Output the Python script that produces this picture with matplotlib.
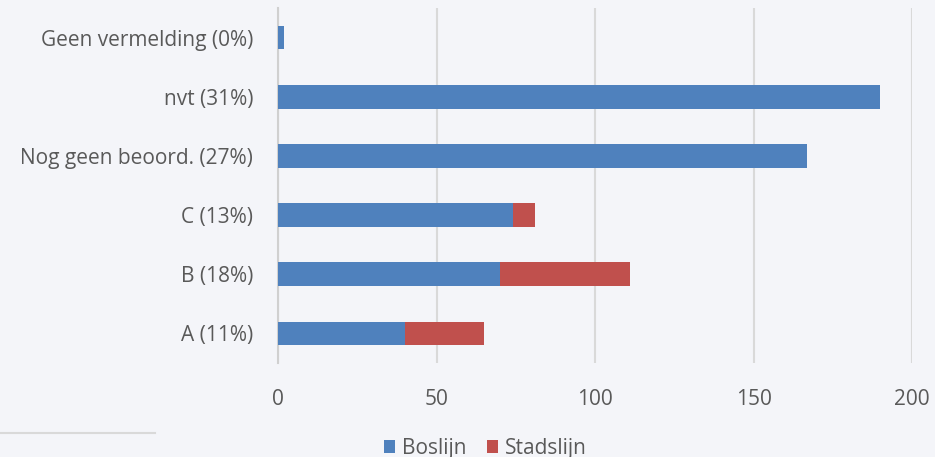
import numpy as np
import matplotlib.pyplot as plt
from matplotlib.lines import Line2D

categories = ["A (11%)", "B (18%)", "C (13%)", "Nog geen beoord. (27%)", "nvt (31%)", "Geen vermelding (0%)"]
boslijn = [40, 70, 74, 167, 190, 2]
stadslijn = [25, 41, 7, 0, 0, 0]
xticks = [0, 50, 100, 150, 200]

bg = "#f4f5f9"
blue = "#4f81bd"
red = "#c0504d"
txt = "#595959"

plt.rcParams['font.family'] = ['Open Sans', 'DejaVu Sans']

fig = plt.figure(figsize=(9.35, 4.57), dpi=100, facecolor=bg)
ax = fig.add_axes([278/935, 1-363/457, (912-278)/935, (363-8)/457], facecolor=bg)

y = np.arange(len(categories))
ax.barh(y, boslijn, height=0.4, color=blue, label="Boslijn", zorder=3)
ax.barh(y, stadslijn, left=boslijn, height=0.4, color=red, label="Stadslijn", zorder=3)

ax.set_xlim(0, 200)
ax.set_ylim(-0.5, len(categories) - 0.5)
ax.set_xticks(xticks)
ax.set_yticks(y)
ax.set_yticklabels(categories)
ax.grid(axis='x', color="#d9d9d9", linewidth=1.5, zorder=0)
for s in ["top", "right", "bottom"]:
    ax.spines[s].set_visible(False)
ax.spines["left"].set_color("#d0d0d0")
ax.spines["left"].set_linewidth(1.5)
ax.tick_params(axis='both', length=0, labelsize=15, colors=txt)
ax.tick_params(axis='y', pad=18)
ax.tick_params(axis='x', pad=19)

fig.legend(loc="lower center", bbox_to_anchor=(0.519, -0.045), ncol=2, frameon=False,
           fontsize=15, labelcolor=txt, handlelength=0.55, handleheight=0.55,
           handletextpad=0.3, columnspacing=1.0)

fig.add_artist(Line2D([0, 155/935], [1-433/457, 1-433/457], color="#d9d9d9", linewidth=1.5))

fig.savefig("out.png", dpi=100, facecolor=bg)
